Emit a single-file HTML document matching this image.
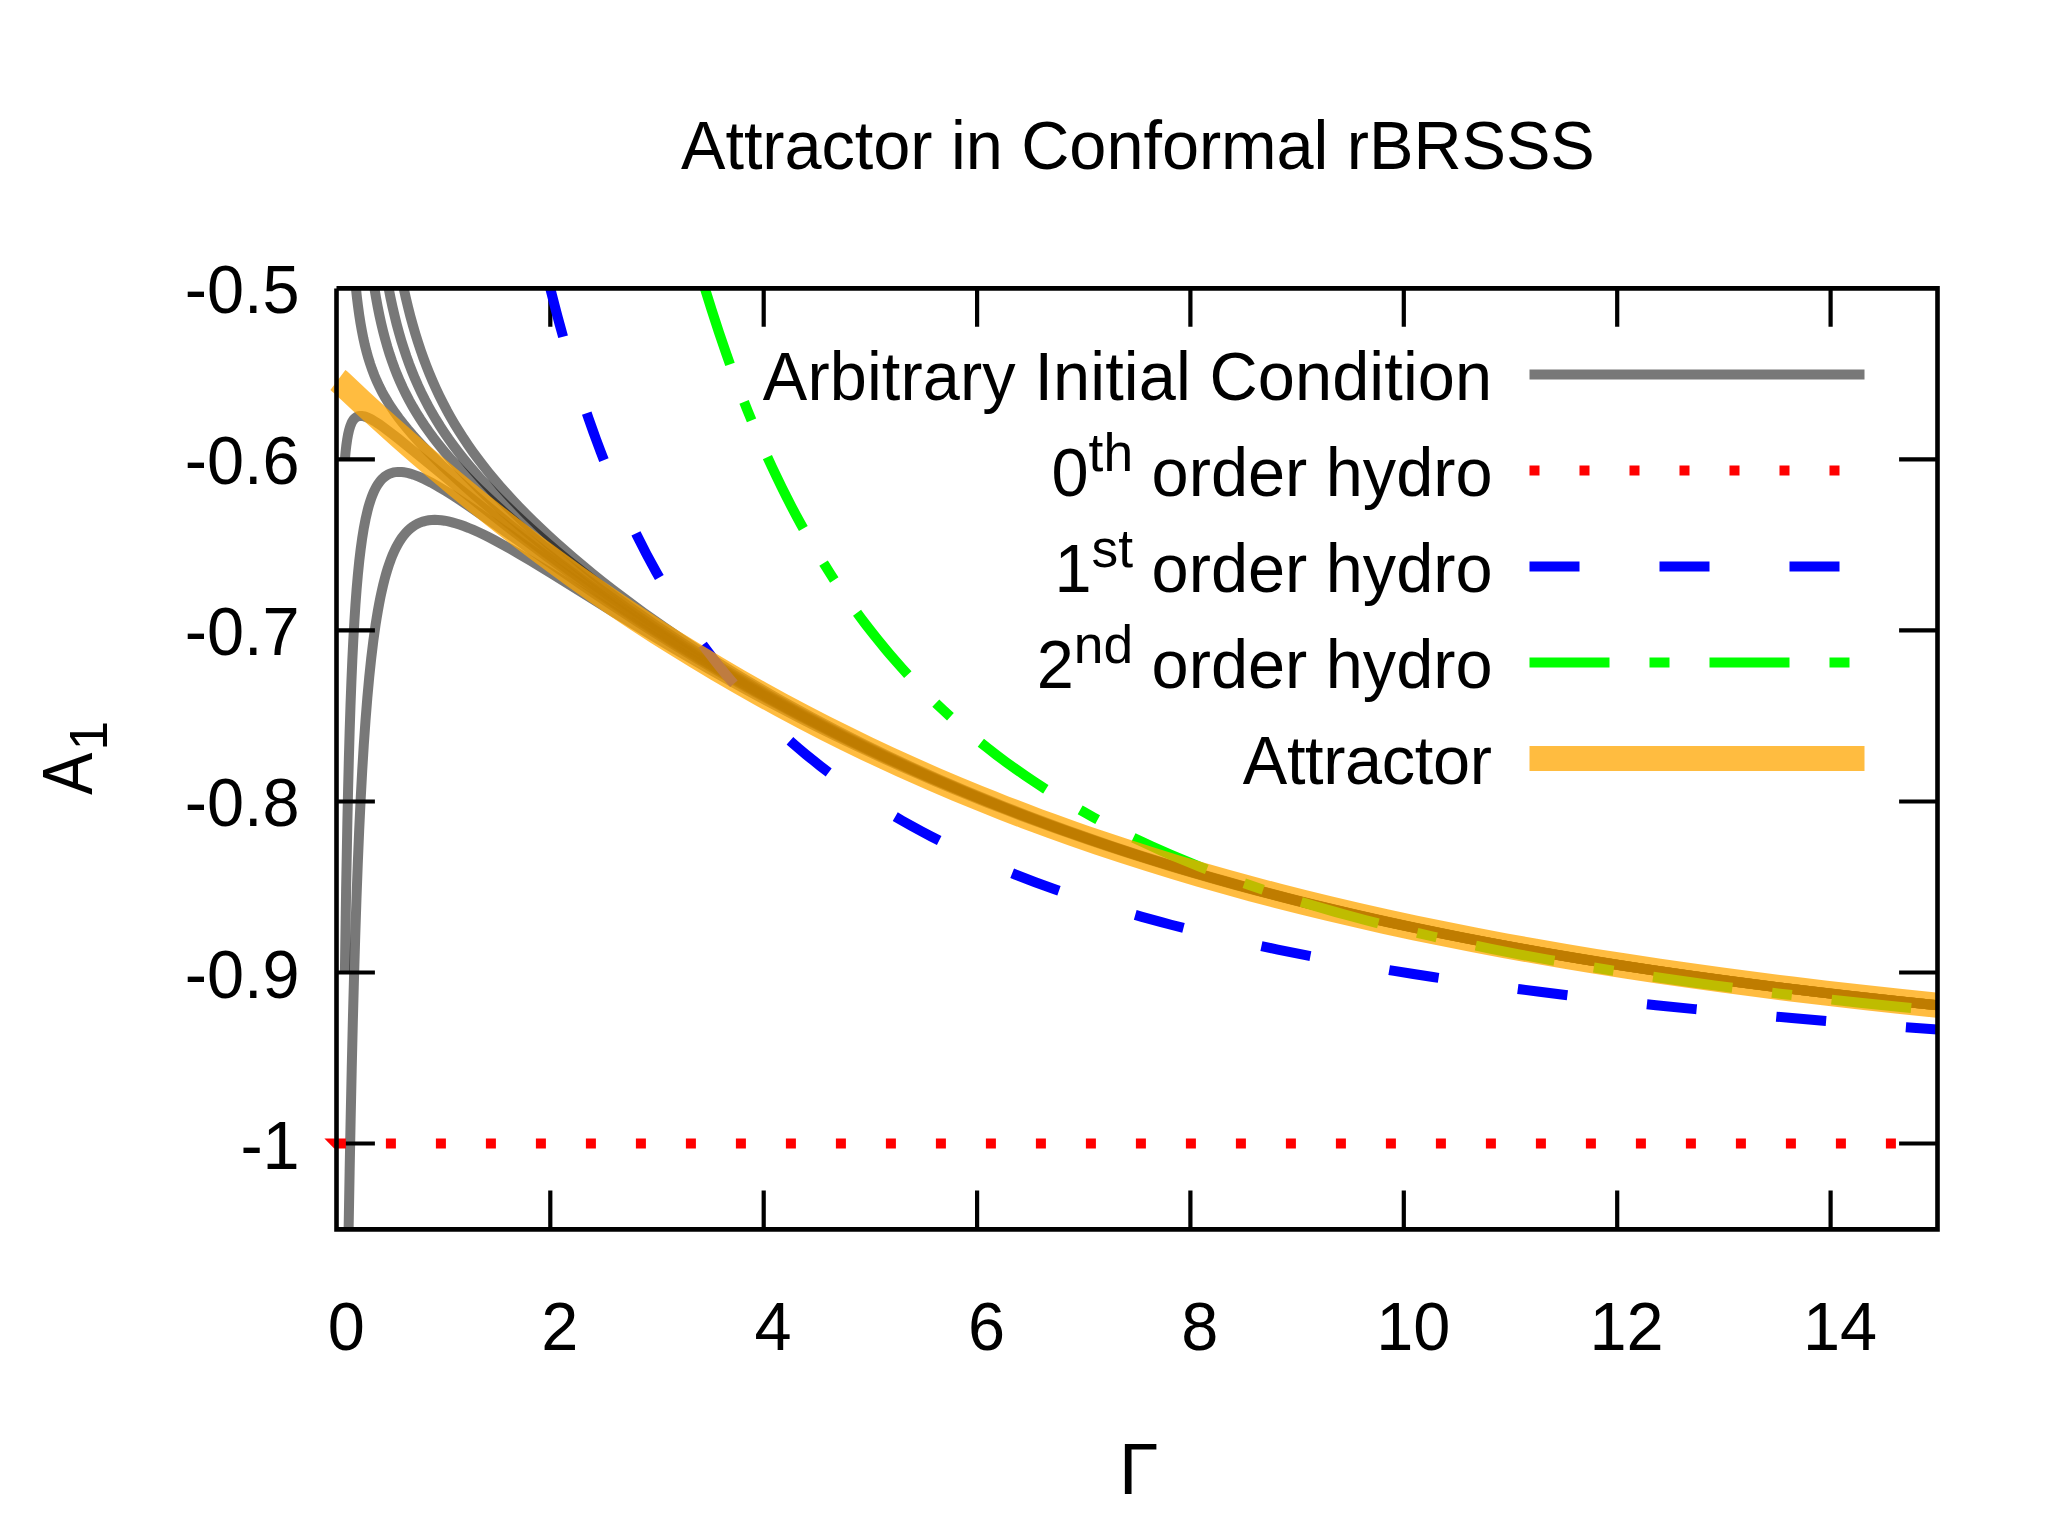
<!DOCTYPE html>
<html><head><meta charset="utf-8"><title>Attractor in Conformal rBRSSS</title>
<style>
html,body{margin:0;padding:0;background:#fff;}
body{width:2048px;height:1536px;overflow:hidden;}
svg{display:block;}
text{font-family:"Liberation Sans",sans-serif;fill:#000;}
.c{fill:none;stroke-linecap:butt;stroke-linejoin:miter;}
</style></head><body>
<svg width="2048" height="1536" viewBox="0 0 2048 1536">
<rect width="2048" height="1536" fill="#fff"/>
<path class="c" stroke="#000" stroke-width="4.2" d="M550.3 1229.4v-38.8M550.3 288.4v38.4M763.7 1229.4v-38.8M763.7 288.4v38.4M977.1 1229.4v-38.8M977.1 288.4v38.4M1190.4 1229.4v-38.8M1190.4 288.4v38.4M1403.8 1229.4v-38.8M1403.8 288.4v38.4M1617.2 1229.4v-38.8M1617.2 288.4v38.4M1830.6 1229.4v-38.8M1830.6 288.4v38.4M336.5 459.4h38.4M1937.5 459.4h-38.4M336.5 630.4h38.4M1937.5 630.4h-38.4M336.5 801.5h38.4M1937.5 801.5h-38.4M336.5 972.5h38.4M1937.5 972.5h-38.4M336.5 1143.5h38.4M1937.5 1143.5h-38.4"/>
<path class="c" stroke="#000" stroke-opacity="0.53" stroke-width="10" d="M348.62 1229.00L349.63 1171.29 350.65 1118.67 351.71 1069.30 352.84 1021.43 354.01 977.26 355.21 936.77 356.49 898.17 357.80 863.18 359.19 830.08 360.61 800.35 362.19 771.03 363.79 744.91 365.50 720.53 367.32 697.86 369.25 676.85 371.19 658.40 373.37 640.50 375.56 624.89 376.65 617.96 377.89 610.60 379.17 603.58 380.49 596.90 381.72 591.18 383.12 585.13 384.56 579.40 386.05 573.97 387.59 568.85 389.17 564.03 390.80 559.49 392.49 555.24 394.22 551.26 396.02 547.55 397.86 544.10 399.77 540.90 401.73 537.95 403.76 535.25 405.85 532.78 408.00 530.55 410.22 528.54 412.51 526.75 414.88 525.18 417.56 523.69 420.08 522.56 422.94 521.55 425.63 520.84 428.69 520.28 431.55 519.98 434.81 519.85 437.87 519.94 441.35 520.24 444.61 520.70 448.32 521.40 452.15 522.32 456.12 523.44 460.22 524.76 464.47 526.29 468.86 528.01 473.40 529.93 478.10 532.04 483.41 534.56 488.46 537.07 494.16 540.02 502.09 544.30 510.42 548.97 519.74 554.36 530.15 560.54 551.46 573.53 611.34 610.72 642.54 629.83 656.98 638.53 674.11 648.71 691.24 658.74 708.36 668.58 729.77 680.64 746.90 690.08 764.03 699.33 781.16 708.39 798.29 717.25 815.41 725.93 832.54 734.41 853.95 744.75 866.80 750.81 883.93 758.73 901.05 766.47 918.18 774.02 935.31 781.40 952.44 788.60 969.57 795.63 986.69 802.49 1003.82 809.18 1020.95 815.71 1038.08 822.08 1055.21 828.29 1072.33 834.35 1089.46 840.25 1106.59 846.01 1128.00 853.01 1149.41 859.79 1170.82 866.36 1192.23 872.72 1213.64 878.88 1235.05 884.85 1256.46 890.63 1277.87 896.23 1299.28 901.66 1320.69 906.91 1342.10 912.00 1363.51 916.93 1389.20 922.64 1410.61 927.23 1436.31 932.56 1462.00 937.68 1487.69 942.62 1513.38 947.38 1539.07 951.96 1564.77 956.37 1590.46 960.62 1616.15 964.71 1641.84 968.66 1667.53 972.47 1697.51 976.74 1723.20 980.26 1753.17 984.21 1783.15 988.00 1813.12 991.64 1843.10 995.13 1873.07 998.49 1903.04 1001.71 1937.30 1005.24"/>
<path class="c" stroke="#000" stroke-opacity="0.53" stroke-width="10" d="M344.90 972.47L346.09 891.14 347.39 820.86 348.09 789.34 348.84 759.67 349.63 731.86 350.48 705.88 351.39 681.69 352.31 660.27 353.29 640.37 354.33 621.93 355.43 604.91 356.61 589.23 357.86 574.83 359.26 561.01 360.68 549.04 362.19 538.16 363.79 528.30 365.59 519.00 367.41 511.08 368.36 507.45 369.45 503.69 370.46 500.50 371.62 497.21 372.70 494.42 373.93 491.56 375.09 489.16 376.41 486.71 377.64 484.67 379.04 482.62 380.36 480.93 381.86 479.24 383.26 477.87 384.86 476.54 386.51 475.38 388.21 474.40 389.98 473.58 391.81 472.93 393.70 472.44 395.65 472.10 397.68 471.92 399.77 471.90 401.73 472.00 403.96 472.26 406.06 472.62 408.44 473.15 410.90 473.82 413.45 474.63 416.08 475.58 418.81 476.66 421.63 477.88 424.55 479.24 430.97 482.50 437.87 486.35 445.27 490.78 452.15 495.10 459.47 499.86 467.65 505.33 476.80 511.59 493.67 523.35 546.25 560.39 563.68 572.50 579.56 583.39 594.17 593.28 608.82 603.05 623.42 612.64 637.88 621.98 656.00 633.48 674.11 644.73 691.24 655.15 708.36 665.34 725.49 675.31 742.62 685.06 759.75 694.59 781.16 706.21 798.29 715.26 815.41 724.10 832.54 732.73 853.95 743.24 871.08 751.42 888.21 759.40 905.34 767.19 926.75 776.66 943.87 784.03 965.28 792.99 982.41 799.95 1003.82 808.42 1020.95 815.00 1042.36 823.00 1059.49 829.22 1080.90 836.77 1102.31 844.09 1123.72 851.17 1145.13 858.04 1170.82 865.98 1192.23 872.38 1213.64 878.57 1235.05 884.56 1260.74 891.51 1282.15 897.09 1307.85 903.56 1333.54 909.79 1359.23 915.78 1384.92 921.54 1410.61 927.09 1436.31 932.43 1462.00 937.57 1487.69 942.51 1513.38 947.28 1539.07 951.87 1569.05 957.01 1594.74 961.24 1624.71 965.98 1654.69 970.53 1684.66 974.88 1714.64 979.06 1744.61 983.06 1774.58 986.90 1804.56 990.58 1834.53 994.12 1868.79 997.99 1903.04 1001.69 1937.30 1005.22"/>
<path class="c" stroke="#000" stroke-opacity="0.53" stroke-width="10" d="M344.90 459.42L345.57 452.13 346.32 445.50 347.14 439.73 348.06 434.58 349.06 430.19 350.15 426.50 351.35 423.44 351.98 422.13 352.69 420.89 353.39 419.87 354.17 418.91 354.93 418.15 355.78 417.46 356.67 416.91 357.60 416.48 358.58 416.18 359.61 416.00 360.68 415.94 361.80 415.99 362.98 416.15 364.29 416.44 365.68 416.86 367.13 417.40 370.26 418.84 372.26 419.92 374.39 421.17 379.17 424.26 384.71 428.20 391.30 433.18 398.43 438.79 407.13 445.82 442.97 475.26 460.22 489.31 475.95 501.94 491.28 514.08 510.42 528.96 528.97 543.06 547.54 556.88 565.78 570.16 584.85 583.71 603.85 596.90 623.42 610.16 642.54 622.79 661.26 634.85 682.67 648.27 699.80 658.74 721.21 671.48 742.62 683.86 764.03 695.87 785.44 707.53 806.85 718.85 828.26 729.82 849.67 740.47 871.08 750.79 883.93 756.84 896.77 762.77 918.18 772.41 931.03 778.05 943.87 783.59 965.28 792.58 978.13 797.85 990.98 803.01 1012.39 811.40 1025.23 816.31 1038.08 821.13 1050.92 825.85 1063.77 830.49 1076.62 835.03 1089.46 839.49 1110.87 846.73 1132.28 853.75 1153.69 860.54 1179.38 868.40 1200.79 874.73 1222.20 880.85 1243.61 886.78 1269.31 893.65 1290.72 899.17 1316.41 905.57 1337.82 910.72 1363.51 916.68 1389.20 922.41 1414.90 927.93 1440.59 933.24 1466.28 938.35 1491.97 943.27 1517.66 948.01 1543.36 952.58 1573.33 957.69 1599.02 961.90 1629.00 966.62 1654.69 970.50 1684.66 974.86 1714.64 979.04 1744.61 983.04 1774.58 986.88 1804.56 990.57 1834.53 994.11 1868.79 997.98 1903.04 1001.68 1937.30 1005.21"/>
<path class="c" stroke="#000" stroke-opacity="0.53" stroke-width="10" d="M355.95 288.40L356.96 297.72 358.07 306.70 359.24 315.08 360.52 323.28 361.89 330.96 363.33 338.17 364.85 344.97 366.54 351.67 368.25 357.76 370.14 363.81 372.14 369.59 374.35 375.37 376.71 380.93 379.21 386.32 381.87 391.57 384.81 396.92 387.95 402.18 391.42 407.60 394.99 412.79 398.94 418.20 403.16 423.64 407.67 429.16 412.48 434.78 417.82 440.74 423.54 446.87 429.44 452.97 435.97 459.51 442.72 466.05 449.92 472.85 457.61 479.94 465.82 487.32 474.25 494.74 485.04 504.01 496.28 513.44 507.96 523.03 520.04 532.73 532.50 542.53 544.80 552.00 557.86 561.87 570.61 571.31 583.48 580.67 597.07 590.35 610.07 599.44 623.72 608.80 637.32 617.95 650.80 626.84 665.54 636.38 678.39 644.52 691.24 652.52 704.08 660.38 716.93 668.09 734.06 678.16 746.90 685.55 759.75 692.81 772.59 699.94 789.72 709.24 802.57 716.06 815.41 722.76 828.26 729.34 845.39 737.92 858.23 744.22 875.36 752.43 888.21 758.46 905.34 766.32 918.18 772.09 931.03 777.75 943.87 783.31 956.72 788.75 969.57 794.10 982.41 799.34 995.26 804.49 1008.10 809.54 1020.95 814.49 1033.80 819.35 1046.64 824.11 1059.49 828.78 1072.33 833.37 1085.18 837.86 1098.03 842.27 1115.15 848.02 1140.85 856.37 1153.69 860.43 1170.82 865.71 1183.67 869.59 1200.79 874.64 1213.64 878.34 1230.77 883.17 1243.61 886.71 1260.74 891.32 1273.59 894.70 1290.72 899.11 1303.56 902.34 1320.69 906.56 1350.67 913.67 1380.64 920.48 1397.77 924.23 1414.90 927.89 1444.87 934.07 1462.00 937.48 1479.13 940.81 1513.38 947.21 1547.64 953.30 1581.89 959.09 1599.02 961.88 1620.43 965.27 1654.69 970.49 1693.23 976.06 1731.76 981.33 1770.30 986.33 1808.84 991.07 1851.66 996.06 1894.48 1000.76 1937.30 1005.21"/>
<path class="c" stroke="#000" stroke-opacity="0.53" stroke-width="10" d="M374.44 288.40L375.98 297.53 377.66 306.62 379.40 315.27 381.23 323.53 383.13 331.43 385.20 339.33 387.36 346.90 389.62 354.17 391.98 361.18 394.55 368.24 397.14 374.79 399.95 381.42 402.89 387.88 405.97 394.18 409.20 400.36 412.71 406.67 416.40 412.88 420.26 419.03 424.31 425.12 428.73 431.41 433.19 437.46 438.06 443.75 443.17 450.07 448.54 456.42 454.18 462.84 460.10 469.34 466.33 475.92 472.87 482.62 479.74 489.44 486.95 496.40 494.54 503.51 502.20 510.51 511.50 518.79 520.99 527.01 531.00 535.47 541.18 543.86 551.90 552.49 562.76 561.04 573.74 569.50 585.25 578.18 596.84 586.75 608.49 595.18 620.65 603.80 632.82 612.26 644.94 620.53 656.98 628.58 669.83 637.00 682.67 645.25 695.52 653.35 708.36 661.29 721.21 669.08 734.06 676.71 746.90 684.20 759.75 691.55 772.59 698.76 789.72 708.16 802.57 715.06 815.41 721.82 828.26 728.46 845.39 737.11 858.23 743.46 871.08 749.68 883.93 755.79 901.05 763.75 913.90 769.60 926.75 775.32 939.59 780.94 952.44 786.46 965.28 791.87 978.13 797.17 990.98 802.37 1003.82 807.47 1016.67 812.48 1029.51 817.39 1042.36 822.20 1059.49 828.48 1072.33 833.08 1085.18 837.59 1098.03 842.01 1115.15 847.78 1140.85 856.15 1153.69 860.22 1170.82 865.52 1183.67 869.40 1200.79 874.47 1213.64 878.18 1230.77 883.02 1243.61 886.56 1260.74 891.18 1273.59 894.57 1290.72 898.99 1303.56 902.23 1320.69 906.45 1350.67 913.58 1380.64 920.39 1397.77 924.15 1414.90 927.82 1444.87 934.01 1462.00 937.42 1479.13 940.75 1513.38 947.16 1547.64 953.25 1581.89 959.05 1599.02 961.84 1620.43 965.24 1654.69 970.46 1693.23 976.03 1731.76 981.31 1770.30 986.32 1808.84 991.06 1851.66 996.04 1894.48 1000.75 1937.30 1005.20"/>
<path class="c" stroke="#000" stroke-opacity="0.53" stroke-width="10" d="M388.66 288.40L390.51 297.71 392.54 307.10 394.55 315.74 396.73 324.42 398.99 332.77 401.34 340.82 403.78 348.60 406.41 356.44 409.15 364.03 412.00 371.40 414.95 378.56 418.03 385.55 421.23 392.38 424.68 399.33 428.14 405.89 431.88 412.59 435.78 419.20 439.99 425.98 444.22 432.43 448.79 439.09 453.38 445.46 458.34 452.06 463.52 458.65 468.92 465.24 474.54 471.86 480.41 478.50 486.75 485.45 493.14 492.20 499.80 499.02 506.74 505.91 513.98 512.90 521.53 519.98 530.29 527.98 539.15 535.84 548.42 543.85 557.78 551.73 567.55 559.76 577.75 567.94 588.01 575.98 598.72 584.18 609.45 592.22 620.63 600.42 631.80 608.44 643.42 616.61 654.52 624.25 665.54 631.70 678.39 640.20 691.24 648.52 704.08 656.67 716.93 664.65 729.77 672.47 742.62 680.12 755.47 687.63 768.31 694.98 781.16 702.19 794.00 709.26 806.85 716.19 819.70 722.98 832.54 729.64 845.39 736.17 858.23 742.57 871.08 748.85 883.93 755.01 901.05 763.03 913.90 768.92 926.75 774.69 939.59 780.34 952.44 785.89 965.28 791.33 978.13 796.66 990.98 801.89 1003.82 807.02 1016.67 812.05 1029.51 816.98 1042.36 821.82 1059.49 828.12 1072.33 832.74 1085.18 837.27 1098.03 841.71 1115.15 847.50 1140.85 855.90 1153.69 859.98 1170.82 865.29 1183.67 869.19 1200.79 874.27 1213.64 877.99 1230.77 882.84 1243.61 886.40 1260.74 891.03 1273.59 894.43 1290.72 898.85 1303.56 902.10 1320.69 906.33 1350.67 913.47 1380.64 920.30 1397.77 924.06 1414.90 927.73 1444.87 933.93 1462.00 937.35 1479.13 940.68 1513.38 947.10 1547.64 953.20 1581.89 959.01 1599.02 961.80 1620.43 965.20 1654.69 970.43 1693.23 976.00 1731.76 981.29 1770.30 986.29 1808.84 991.04 1851.66 996.03 1894.48 1000.74 1937.30 1005.18"/>
<path class="c" stroke="#000" stroke-opacity="0.53" stroke-width="10" d="M403.69 288.40L405.82 297.89 408.04 307.18 410.35 316.15 412.82 325.18 415.28 333.58 417.92 342.05 420.65 350.26 423.47 358.25 426.39 366.01 429.53 373.88 432.65 381.26 436.01 388.76 439.49 396.09 443.09 403.29 446.81 410.35 450.82 417.56 454.82 424.40 459.12 431.41 463.57 438.35 468.19 445.21 472.97 452.02 477.93 458.79 483.08 465.52 488.61 472.49 494.14 479.19 500.08 486.15 506.03 492.86 512.43 499.85 519.07 506.87 525.71 513.67 532.86 520.77 540.00 527.67 548.24 535.41 556.53 542.96 565.14 550.60 574.09 558.33 583.39 566.15 592.71 573.80 602.39 581.55 612.44 589.40 622.48 597.07 632.89 604.84 643.68 612.72 654.44 620.41 665.54 628.16 678.39 636.94 686.95 642.67 699.80 651.10 708.36 656.62 721.21 664.74 734.06 672.67 746.90 680.44 759.75 688.04 772.59 695.49 785.44 702.77 798.29 709.91 811.13 716.90 823.98 723.74 836.82 730.45 849.67 737.02 862.52 743.46 875.36 749.77 888.21 755.96 901.05 762.02 913.90 767.96 926.75 773.78 939.59 779.49 952.44 785.09 965.28 790.57 978.13 795.95 990.98 801.22 1003.82 806.38 1016.67 811.45 1029.51 816.41 1042.36 821.28 1055.21 826.05 1068.05 830.73 1080.90 835.31 1093.74 839.81 1110.87 845.66 1123.72 849.95 1136.56 854.16 1149.41 858.28 1166.54 863.66 1179.38 867.60 1196.51 872.73 1209.36 876.49 1226.49 881.39 1239.33 884.98 1256.46 889.66 1269.31 893.09 1286.43 897.56 1299.28 900.84 1316.41 905.11 1346.38 912.31 1376.36 919.20 1393.49 923.00 1410.61 926.70 1440.59 932.95 1457.72 936.40 1474.84 939.76 1491.97 943.04 1509.10 946.23 1543.36 952.39 1577.61 958.24 1594.74 961.05 1616.15 964.48 1654.69 970.38 1693.23 975.96 1731.76 981.25 1770.30 986.26 1808.84 991.01 1851.66 996.01 1894.48 1000.72 1937.30 1005.17"/>
<path class="c" stroke="#000" stroke-opacity="0.53" stroke-width="10" d="M1529.5 374.4H1864.5"/>
<path fill="#f00" d="M324.4 1138.5H345.9V1148.5H334.2Z"/>
<path class="c" stroke="#f00" stroke-width="10" stroke-dasharray="10 40" d="M385.9 1143.5H1937.3"/>
<path class="c" stroke="#f00" stroke-width="10" stroke-dasharray="10 40" d="M1529.5 470.4H1864.5"/>
<path class="c" stroke="#00f" stroke-width="10" stroke-dasharray="50 80" d="M550.29 288.40L554.84 306.28 557.26 315.45 559.67 324.41 564.49 341.78 566.91 350.19 571.73 366.49 574.15 374.39 578.97 389.72 581.38 397.16 586.21 411.61 588.62 418.62 593.45 432.26 595.86 438.88 600.68 451.77 605.51 464.20 610.34 476.18 617.57 493.39 622.40 504.38 627.22 515.00 632.05 525.28 636.87 535.22 641.70 544.85 646.53 554.18 651.35 563.22 656.18 571.99 661.00 580.50 668.24 592.80 673.06 600.71 677.89 608.39 682.72 615.85 689.95 626.67 694.78 633.64 702.02 643.75 706.84 650.26 714.08 659.73 718.91 665.84 726.14 674.72 730.97 680.46 738.21 688.81 743.03 694.22 750.27 702.08 757.51 709.68 764.75 717.02 769.57 721.77 776.81 728.71 784.05 735.43 791.28 741.93 798.52 748.22 805.76 754.32 813.00 760.24 820.24 765.98 827.47 771.55 834.71 776.96 841.95 782.21 851.60 788.98 858.84 793.90 868.49 800.25 875.73 804.86 885.38 810.82 892.62 815.15 902.27 820.75 911.92 826.17 921.57 831.41 931.22 836.48 940.87 841.38 950.52 846.13 962.58 851.87 974.65 857.38 986.76 862.71 996.46 866.84 1006.16 870.85 1015.86 874.75 1025.56 878.53 1035.26 882.21 1044.96 885.79 1054.66 889.27 1064.35 892.66 1074.05 895.96 1093.45 902.31 1112.85 908.34 1122.55 911.24 1141.95 916.84 1161.35 922.17 1171.05 924.75 1190.45 929.72 1200.15 932.12 1219.54 936.77 1229.24 939.01 1248.64 943.36 1258.34 945.47 1277.74 949.55 1306.84 955.37 1335.94 960.85 1365.04 966.02 1394.13 970.90 1413.53 974.01 1432.93 977.01 1462.03 981.32 1481.43 984.07 1500.83 986.72 1520.23 989.29 1539.62 991.78 1578.42 996.52 1617.22 1000.98 1656.02 1005.17 1694.82 1009.12 1743.31 1013.75 1791.81 1018.08 1840.31 1022.12 1888.80 1025.92 1937.30 1029.48"/>
<path class="c" stroke="#00f" stroke-width="10" stroke-dasharray="50 80" d="M1529.5 566.4H1864.5"/>
<path class="c" stroke="#0f0" stroke-width="10" stroke-dasharray="80 40 20 40" d="M704.94 288.40L711.67 310.09 718.91 332.32 726.14 353.49 730.97 367.05 735.79 380.19 743.03 399.15 747.86 411.31 752.68 423.11 757.51 434.57 762.33 445.70 767.16 456.50 771.98 467.01 776.81 477.22 781.63 487.14 786.46 496.80 791.28 506.20 796.11 515.35 800.94 524.25 805.76 532.93 810.59 541.38 815.41 549.62 820.24 557.65 825.06 565.48 829.89 573.11 834.71 580.57 839.54 587.84 844.36 594.93 851.60 605.27 856.43 611.96 861.25 618.49 866.08 624.88 873.32 634.19 878.14 640.23 885.38 649.03 890.20 654.74 897.44 663.08 902.27 668.49 909.51 676.40 916.74 684.06 923.98 691.48 928.81 696.31 936.04 703.37 943.28 710.22 950.52 716.88 955.35 721.20 962.58 727.54 969.82 733.71 977.06 739.70 986.76 747.47 996.46 754.96 1006.16 762.19 1015.86 769.17 1025.56 775.91 1035.26 782.42 1044.96 788.71 1054.66 794.80 1064.35 800.69 1074.05 806.40 1083.75 811.93 1093.45 817.28 1103.15 822.47 1112.85 827.51 1122.55 832.39 1132.25 837.14 1141.95 841.75 1151.65 846.22 1161.35 850.57 1171.05 854.80 1180.75 858.91 1190.45 862.91 1200.15 866.81 1209.85 870.60 1219.54 874.29 1229.24 877.89 1238.94 881.40 1248.64 884.82 1268.04 891.40 1287.44 897.67 1297.14 900.69 1316.54 906.52 1335.94 912.09 1345.64 914.78 1365.04 919.98 1384.43 924.95 1394.13 927.36 1413.53 932.03 1432.93 936.50 1442.63 938.67 1462.03 942.87 1491.13 948.87 1520.23 954.54 1549.32 959.89 1578.42 964.95 1607.52 969.74 1626.92 972.80 1646.32 975.76 1675.42 980.01 1694.82 982.73 1714.21 985.36 1743.31 989.15 1782.11 993.93 1820.91 998.44 1859.70 1002.68 1898.50 1006.69 1937.30 1010.48"/>
<path class="c" stroke="#0f0" stroke-width="10" stroke-dasharray="80 40 20 40" d="M1529.5 662.4H1864.5"/>
<path class="c" stroke="#ffa500" stroke-opacity="0.75" stroke-width="25" d="M337.9 380.1L339.5 381.3L341.71 383.24L360.94 401.25 380.17 418.88 399.47 436.17 418.77 453.09 438.02 469.58 457.56 485.94 477.06 501.89 496.61 517.50 516.81 533.23 536.47 548.16 556.58 563.06 575.95 577.06 596.03 591.20 616.72 605.39 636.75 618.76 656.98 631.90 674.11 642.76 695.52 655.98 716.93 668.82 738.34 681.28 759.75 693.38 781.16 705.13 802.57 716.52 823.98 727.57 845.39 738.29 866.80 748.69 888.21 758.76 901.05 764.66 913.90 770.45 935.31 779.86 956.72 788.97 978.13 797.81 990.98 802.97 1003.82 808.04 1025.23 816.28 1038.08 821.10 1050.92 825.82 1072.33 833.50 1085.18 837.99 1098.03 842.39 1123.72 850.95 1149.41 859.18 1175.10 867.10 1200.79 874.71 1226.49 882.04 1252.18 889.09 1277.87 895.87 1303.56 902.39 1329.26 908.67 1359.23 915.69 1384.92 921.46 1414.90 927.92 1444.87 934.10 1474.84 940.01 1504.82 945.66 1534.79 951.07 1564.77 956.25 1594.74 961.21 1624.71 965.95 1658.97 971.13 1688.94 975.47 1723.20 980.20 1757.46 984.71 1791.71 989.01 1825.97 993.11 1864.51 997.50 1898.76 1001.22 1937.30 1005.21"/>
<path class="c" stroke="#ffa500" stroke-opacity="0.75" stroke-width="25" d="M1529.5 758.4H1864.5"/>
<path class="c" stroke="#000" stroke-width="4.6" d="M336.5 288.4V1229.4H1937.5V288.4H336.5"/>
<text transform="translate(1137.9,168.9) scale(1,1.020)" text-anchor="middle" font-size="66.67" textLength="913.9" lengthAdjust="spacing">Attractor in Conformal rBRSSS</text>
<text transform="translate(299.7,312.9) scale(1,1.020)" text-anchor="end" font-size="66.67">-0.5</text>
<text transform="translate(299.7,484.1) scale(1,1.020)" text-anchor="end" font-size="66.67">-0.6</text>
<text transform="translate(299.7,655.3) scale(1,1.020)" text-anchor="end" font-size="66.67">-0.7</text>
<text transform="translate(299.7,826.4) scale(1,1.020)" text-anchor="end" font-size="66.67">-0.8</text>
<text transform="translate(299.7,997.6) scale(1,1.020)" text-anchor="end" font-size="66.67">-0.9</text>
<text transform="translate(299.7,1168.8) scale(1,1.020)" text-anchor="end" font-size="66.67">-1</text>
<text transform="translate(346.3,1350.0) scale(1,1.020)" text-anchor="middle" font-size="66.67">0</text>
<text transform="translate(559.7,1350.0) scale(1,1.020)" text-anchor="middle" font-size="66.67">2</text>
<text transform="translate(773.1,1350.0) scale(1,1.020)" text-anchor="middle" font-size="66.67">4</text>
<text transform="translate(986.5,1350.0) scale(1,1.020)" text-anchor="middle" font-size="66.67">6</text>
<text transform="translate(1199.8,1350.0) scale(1,1.020)" text-anchor="middle" font-size="66.67">8</text>
<text transform="translate(1413.2,1350.0) scale(1,1.020)" text-anchor="middle" font-size="66.67">10</text>
<text transform="translate(1626.6,1350.0) scale(1,1.020)" text-anchor="middle" font-size="66.67">12</text>
<text transform="translate(1840.0,1350.0) scale(1,1.020)" text-anchor="middle" font-size="66.67">14</text>
<text transform="translate(1119.0,1493.7) scale(1,1.012)" text-anchor="start" font-size="71.50">Γ</text>
<g transform="translate(91.8,796) rotate(-90)"><text transform="translate(1.1,0.0) scale(0.95,1.060)" text-anchor="start" font-size="66.67">A</text><text transform="translate(45.5,15.1) scale(1,1.020)" text-anchor="start" font-size="53.34">1</text></g>
<text transform="translate(1492.1,400.0) scale(1,1.020)" text-anchor="end" font-size="66.67" textLength="729.3" lengthAdjust="spacing">Arbitrary Initial Condition</text>
<text transform="translate(1492.5,496.0) scale(1,1.020)" text-anchor="end" font-size="66.67">0<tspan font-size="53.34" dy="-24.9">th</tspan><tspan dy="24.9"> order hydro</tspan></text>
<text transform="translate(1492.5,592.0) scale(1,1.020)" text-anchor="end" font-size="66.67">1<tspan font-size="53.34" dy="-24.9">st</tspan><tspan dy="24.9"> order hydro</tspan></text>
<text transform="translate(1492.5,688.0) scale(1,1.020)" text-anchor="end" font-size="66.67">2<tspan font-size="53.34" dy="-24.9">nd</tspan><tspan dy="24.9"> order hydro</tspan></text>
<text transform="translate(1491.9,784.0) scale(1,1.020)" text-anchor="end" font-size="66.67" textLength="249.1" lengthAdjust="spacing">Attractor</text>
</svg></body></html>
